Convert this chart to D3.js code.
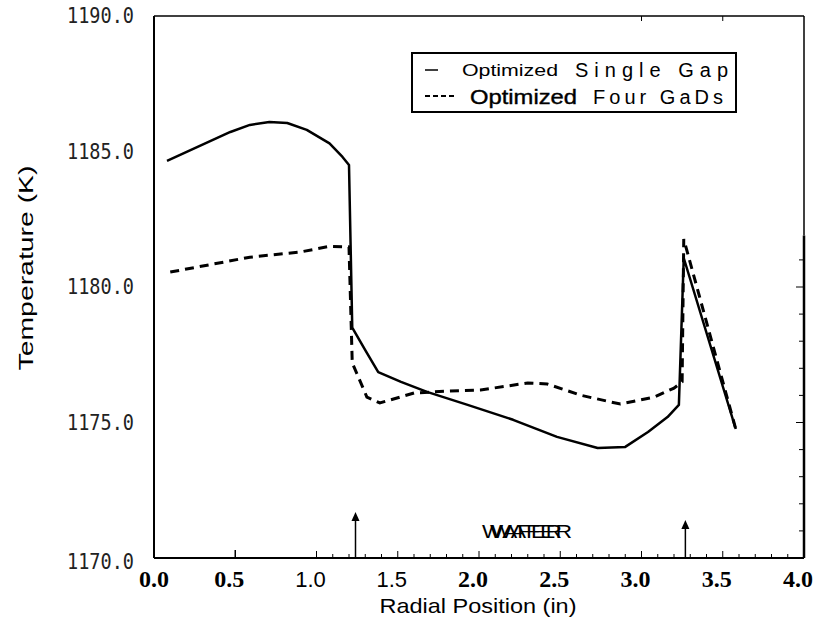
<!DOCTYPE html>
<meta charset="utf-8">
<script src="https://d3js.org/d3.v7.min.js"></script>
<style>
  body { margin: 0; background: #fff; }
</style>
<div id="chart"></div>
<script>
// Optimized Single Gap (solid)
var singleX = [0.08, 0.47, 0.59, 0.71, 0.82, 0.94, 1.08, 1.16, 1.20, 1.22, 1.30, 1.38, 1.52, 1.68, 1.93, 2.21, 2.48, 2.73, 2.90, 3.04, 3.16, 3.23, 3.26, 3.58];
var singleT = [1184.65, 1185.72, 1185.98, 1186.09, 1186.05, 1185.8, 1185.3, 1184.8, 1184.5, 1178.5, 1177.67, 1176.86, 1176.5, 1176.13, 1175.65, 1175.1, 1174.47, 1174.06, 1174.1, 1174.65, 1175.2, 1175.65, 1181.07, 1174.76];
// Optimized Four Gaps (dashed)
var fourX = [0.10, 0.59, 0.90, 1.08, 1.20, 1.22, 1.31, 1.39, 1.60, 1.81, 2.01, 2.30, 2.42, 2.63, 2.87, 3.08, 3.20, 3.25, 3.26, 3.58];
var fourT = [1180.55, 1181.1, 1181.29, 1181.5, 1181.48, 1177.2, 1175.94, 1175.72, 1176.09, 1176.16, 1176.2, 1176.46, 1176.42, 1176.0, 1175.68, 1175.94, 1176.27, 1176.5, 1181.77, 1174.76];

var xTicks = [0.0, 0.5, 1.0, 1.5, 2.0, 2.5, 3.0, 3.5, 4.0];
var xTickLabels = ["0.0", "0.5", "1.0", "1.5", "2.0", "2.5", "3.0", "3.5", "4.0"];
var xTickBold = [true, true, false, false, true, true, true, true, true];
var yTicks = [1170, 1175, 1180, 1185, 1190];
var yTickLabels = ["1170.0", "1175.0", "1180.0", "1185.0", "1190.0"];
var arrowX = [1.24, 3.27];

var margin = {top: 16, right: 16, bottom: 68, left: 154},
    width = 820 - margin.left - margin.right,
    height = 626 - margin.top - margin.bottom;

var svg = d3.select("#chart")
  .append("svg")
  .attr("width", 820)
  .attr("height", 626)
  .append("g")
  .attr("transform", "translate(" + margin.left + "," + margin.top + ")");

var x = d3.scaleLinear().domain([0, 4]).range([0, width]);
var y = d3.scaleLinear().domain([1170, 1190]).range([height, 0]);

// frame
svg.append("line").attr("x1", 0).attr("x2", 0).attr("y1", 0).attr("y2", height)
  .attr("stroke", "#000").attr("stroke-width", 2);
svg.append("line").attr("x1", 0).attr("x2", width).attr("y1", height).attr("y2", height)
  .attr("stroke", "#000").attr("stroke-width", 2);
svg.append("line").attr("x1", 0).attr("x2", width).attr("y1", 0).attr("y2", 0)
  .attr("stroke", "#000").attr("stroke-width", 1.5);
svg.append("line").attr("x1", width).attr("x2", width).attr("y1", 0).attr("y2", y(1181.9))
  .attr("stroke", "#000").attr("stroke-width", 1.5);
svg.append("line").attr("x1", width).attr("x2", width).attr("y1", y(1181.9)).attr("y2", height)
  .attr("stroke", "#000").attr("stroke-width", 2.5);

// bottom ticks (inside)
var minor = d3.range(10, 41).map(function(d) { return d / 10; });
svg.selectAll(".xminor").data(minor).enter().append("line")
  .attr("x1", function(d) { return x(d); }).attr("x2", function(d) { return x(d); })
  .attr("y1", height).attr("y2", function(d) { return Math.abs(d * 2 - Math.round(d * 2)) < 1e-6 ? height - 7 : height - 4; })
  .attr("stroke", "#000").attr("stroke-width", 1);
svg.append("line").attr("x1", x(0.5)).attr("x2", x(0.5)).attr("y1", height).attr("y2", height - 8)
  .attr("stroke", "#000").attr("stroke-width", 1.5);

// top ticks
svg.selectAll(".xtop").data([3.0, 3.5]).enter().append("line")
  .attr("x1", function(d) { return x(d); }).attr("x2", function(d) { return x(d); })
  .attr("y1", 0).attr("y2", 5).attr("stroke", "#000").attr("stroke-width", 1);

// right ticks
var rightTicks = d3.range(1171, 1182);
svg.selectAll(".yright").data(rightTicks).enter().append("line")
  .attr("x1", width).attr("x2", function(d) { return d % 5 === 0 ? width - 8 : width - 5; })
  .attr("y1", function(d) { return y(d); }).attr("y2", function(d) { return y(d); })
  .attr("stroke", "#000").attr("stroke-width", 1);

// x tick labels
svg.selectAll(".xlab").data(xTicks).enter().append("text")
  .attr("x", function(d) { return x(d) - (d === 0 ? 0 : 6); })
  .attr("y", height + 29)
  .attr("text-anchor", "middle")
  .style("font-family", function(d, i) { return xTickBold[i] ? "'Liberation Serif', serif" : "'Liberation Sans', Arial, sans-serif"; })
  .style("font-weight", function(d, i) { return xTickBold[i] ? "bold" : "normal"; })
  .style("font-size", function(d, i) { return xTickBold[i] ? "24px" : "22px"; })
  .text(function(d, i) { return xTickLabels[i]; });

// y tick labels
svg.selectAll(".ylab").data(yTicks).enter().append("text")
  .attr("x", -20)
  .attr("y", function(d) { return y(d) + 7 + (d === 1170 ? 4 : 0); })
  .attr("text-anchor", "end")
  .attr("textLength", 67)
  .attr("lengthAdjust", "spacingAndGlyphs")
  .style("font-family", "'DejaVu Sans Mono', monospace")
  .style("font-size", "21px")
  .style("fill", "#222")
  .text(function(d, i) { return yTickLabels[i]; });

// axis titles
svg.append("text")
  .attr("x", 478 - margin.left).attr("y", 613 - margin.top)
  .attr("text-anchor", "middle")
  .attr("textLength", 197).attr("lengthAdjust", "spacingAndGlyphs")
  .style("font-family", "'Liberation Sans', Arial, sans-serif")
  .style("font-size", "21px")
  .text("Radial Position (in)");
svg.append("text")
  .attr("transform", "translate(" + (33 - margin.left) + "," + (268 - margin.top) + ") rotate(-90)")
  .attr("text-anchor", "middle")
  .attr("textLength", 205).attr("lengthAdjust", "spacingAndGlyphs")
  .style("font-family", "'Liberation Sans', Arial, sans-serif")
  .style("font-size", "20px")
  .text("Temperature (K)");

// lines
var line = d3.line().x(function(d) { return x(d[0]); }).y(function(d) { return y(d[1]); });
svg.append("path")
  .datum(fourX.map(function(v, i) { return [v, fourT[i]]; }))
  .attr("d", line).attr("fill", "none").attr("stroke", "#000")
  .attr("stroke-width", 3).attr("stroke-dasharray", "9,6");
svg.append("path")
  .datum(singleX.map(function(v, i) { return [v, singleT[i]]; }))
  .attr("d", line).attr("fill", "none").attr("stroke", "#000")
  .attr("stroke-width", 2.5).attr("stroke-linejoin", "round");

// arrows
svg.selectAll(".arrow").data(arrowX).enter().append("line")
  .attr("x1", function(d) { return x(d); }).attr("x2", function(d) { return x(d); })
  .attr("y1", height).attr("y2", function(d, i) { return height - (i === 0 ? 38 : 30); })
  .attr("stroke", "#000").attr("stroke-width", 1.5);
svg.selectAll(".arrowhead").data(arrowX).enter().append("path")
  .attr("d", function(d, i) {
    var t = height - (i === 0 ? 46 : 38);
    return "M" + x(d) + "," + t + "L" + (x(d) - 4) + "," + (t + 9) + "L" + (x(d) + 4) + "," + (t + 9) + "Z";
  })
  .attr("fill", "#000");

// WAFER (overprinted in the original)
[[482, 80], [490, 82]].forEach(function(p) {
  svg.append("text")
    .attr("x", p[0] - margin.left).attr("y", 538 - margin.top)
    .attr("textLength", p[1]).attr("lengthAdjust", "spacingAndGlyphs")
    .style("font-family", "'Liberation Sans', Arial, sans-serif")
    .style("font-size", "19px")
    .text("WAFER");
});

// legend
var lg = svg.append("g").attr("transform", "translate(" + (412 - margin.left) + "," + (53 - margin.top) + ")");
lg.append("rect").attr("width", 324).attr("height", 59)
  .attr("fill", "#fff").attr("stroke", "#000").attr("stroke-width", 2);
lg.append("line").attr("x1", 13).attr("x2", 26).attr("y1", 17).attr("y2", 17)
  .attr("stroke", "#000").attr("stroke-width", 1.5);
lg.append("text").attr("x", 50).attr("y", 23)
  .attr("textLength", 96).attr("lengthAdjust", "spacingAndGlyphs")
  .style("font-family", "'Liberation Sans', Arial, sans-serif").style("font-size", "16px")
  .text("Optimized");
lg.append("text").attr("x", 163).attr("y", 24)
  .attr("textLength", 153).attr("lengthAdjust", "spacing")
  .style("font-family", "'Liberation Sans', Arial, sans-serif").style("font-size", "20px")
  .text("Single Gap");
lg.append("line").attr("x1", 13).attr("x2", 44).attr("y1", 43).attr("y2", 43)
  .attr("stroke", "#000").attr("stroke-width", 1.8).attr("stroke-dasharray", "5,3");
lg.append("text").attr("x", 58).attr("y", 51)
  .attr("textLength", 107).attr("lengthAdjust", "spacingAndGlyphs")
  .style("font-family", "'Liberation Sans', Arial, sans-serif").style("font-size", "21px")
  .style("stroke", "#000").style("stroke-width", 0.4)
  .text("Optimized");
lg.append("text").attr("x", 181).attr("y", 51)
  .attr("textLength", 130).attr("lengthAdjust", "spacing")
  .style("font-family", "'Liberation Sans', Arial, sans-serif").style("font-size", "20px")
  .text("Four GaDs");
</script>
